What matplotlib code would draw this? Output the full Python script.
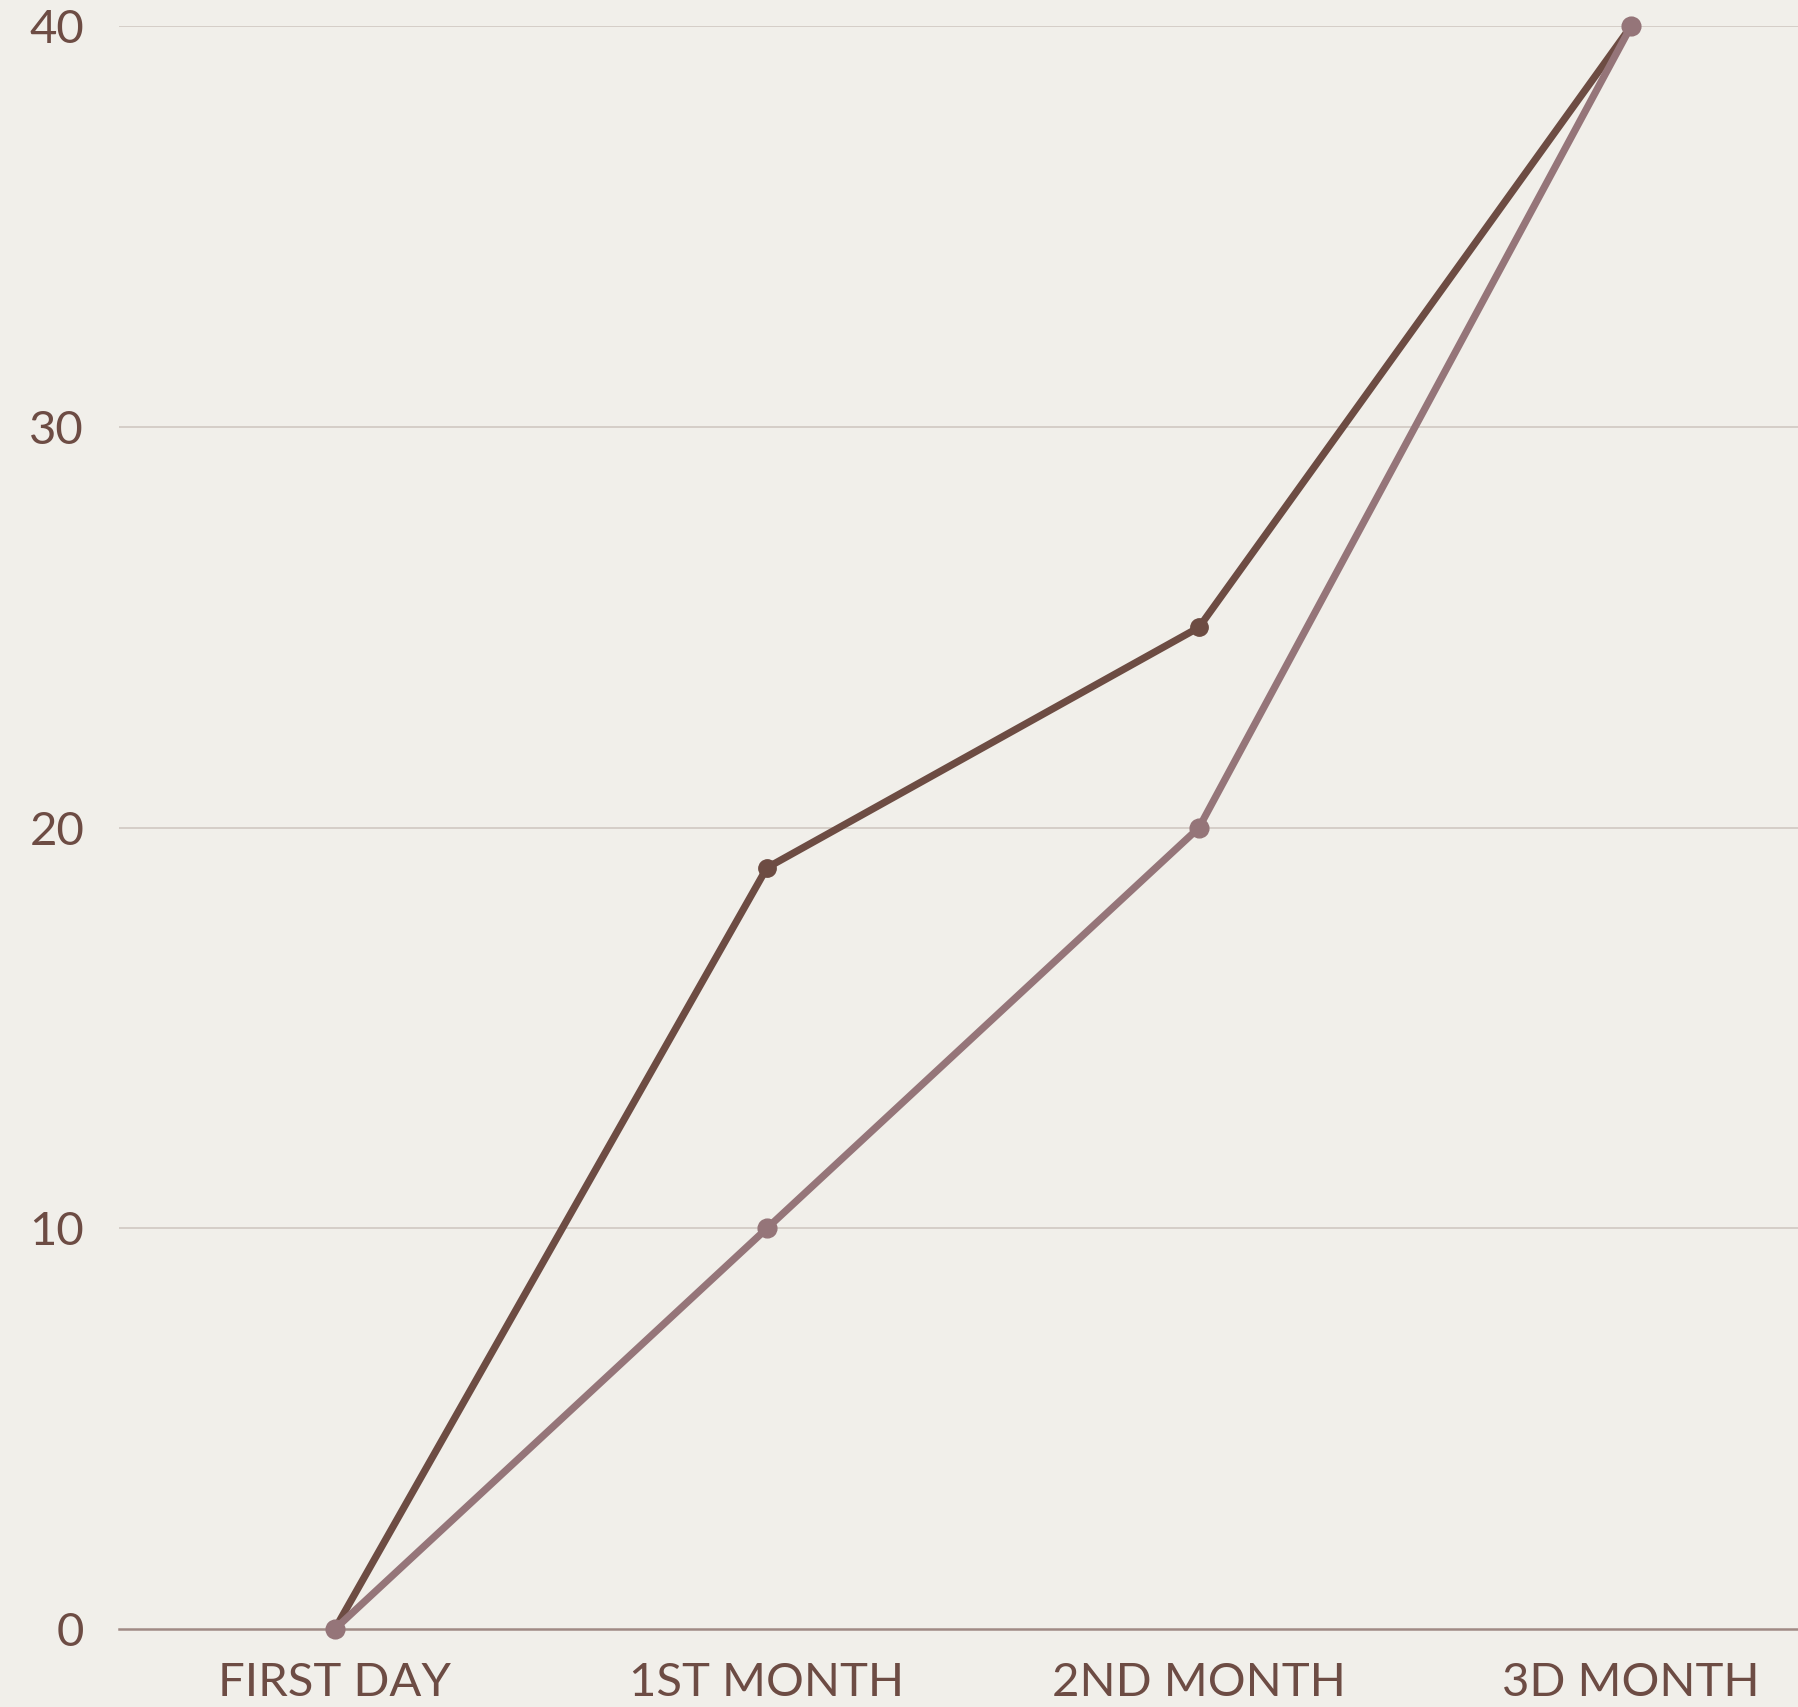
import matplotlib
matplotlib.use("Agg")
import matplotlib.pyplot as plt

# data
categories = ["FIRST DAY", "1ST MONTH", "2ND MONTH", "3D MONTH"]
series_dark = [0, 19, 25, 40]
series_light = [0, 10, 20, 40]
y_ticks = [0, 10, 20, 30, 40]

BG = "#f1efea"
TEXT = "#6d4c44"
DARK = "#6d4c43"
LIGHT = "#957579"
GRID = "#d2cbc5"
BASE = "#a08a85"

plt.rcParams["font.family"] = ["Lato", "DejaVu Sans"]

fig = plt.figure(figsize=(17.99, 17.07), dpi=100, facecolor=BG)
ax = fig.add_axes([0.0661, 0.0457, 0.9339, 0.9388])
ax.set_facecolor(BG)

x = list(range(len(categories)))
ax.plot(x, series_dark, color=DARK, lw=5.2, marker="o", ms=12.5, clip_on=False, zorder=3)
ax.plot(x, series_light, color=LIGHT, lw=5.2, marker="o", ms=13.5, clip_on=False, zorder=4)

ax.set_xlim(-0.5, 3.389)
ax.set_ylim(0, 40)
ax.set_yticks(y_ticks)
ax.set_xticks(x)
ax.set_xticklabels(categories)

for v in y_ticks[1:]:
    ax.axhline(v, color=GRID, lw=1.3, zorder=1)
ax.axhline(0, color=BASE, lw=1.8, zorder=2, clip_on=False)

for s in ax.spines.values():
    s.set_visible(False)
ax.tick_params(axis="both", length=0, labelsize=34, colors=TEXT)
ax.tick_params(axis="y", pad=25)
ax.tick_params(axis="x", pad=24)

fig.savefig("out.png", dpi=100, facecolor=BG)
